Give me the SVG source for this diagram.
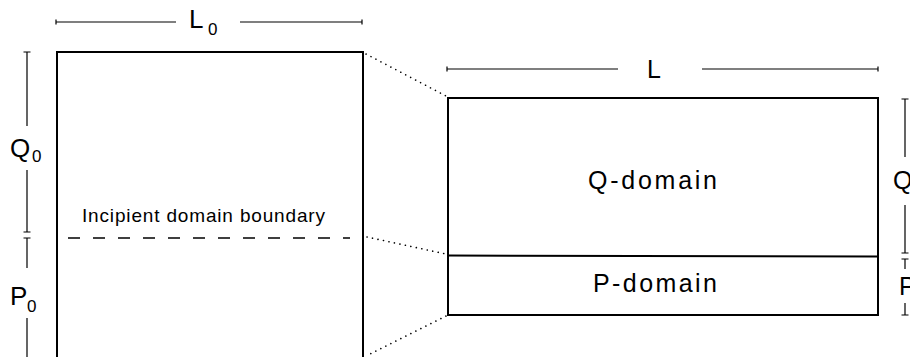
<svg xmlns="http://www.w3.org/2000/svg" width="910" height="357" viewBox="0 0 910 357">
<style>
  .box { fill: none; stroke: #000; stroke-width: 2; }
  .dim { fill: none; stroke: #000; stroke-width: 1.2; }
  .dot { fill: none; stroke: #000; stroke-width: 1.6; stroke-dasharray: 0.1 5.5; stroke-linecap: round; }
  .dash { fill: none; stroke: #000; stroke-width: 1.6; stroke-dasharray: 12 13; }
  text { font-family: "Liberation Sans", Arial, sans-serif; fill: #000; }
  .big { font-size: 26px; }
  .sub { font-size: 17px; }
  .lbl { font-size: 25px; }
  .small { font-size: 19px; }
</style>
<rect width="910" height="357" fill="#fff"/>

<g id="original-domain">
  <path class="box" d="M57,360 V52 H363 V360"/>
  <line class="dash" x1="68" y1="238" x2="350" y2="238"/>
  <text class="small" x="82" y="222" textLength="243" lengthAdjust="spacing">Incipient domain boundary</text>
</g>

<g id="dim-L0">
  <path class="dim" d="M56,22 H176 M240,22 H362 M56,19.5 V24.5 M362,19.5 V24.5"/>
  <text class="big" x="189" y="28">L</text>
  <text class="sub" x="208" y="35">0</text>
</g>

<g id="dim-Q0">
  <path class="dim" d="M27,52 V126 M27,170 V232 M23.5,52 H30.5 M23.5,232 H30.5"/>
  <text class="big" x="10" y="157">Q</text>
  <text class="sub" x="32" y="162">0</text>
</g>

<g id="dim-P0">
  <path class="dim" d="M27,238 V268 M27,318 V357 M23.5,238 H30.5"/>
  <text class="big" x="10" y="305">P</text>
  <text class="sub" x="27" y="312">0</text>
</g>

<g id="deformed-domain">
  <rect class="box" x="448" y="98" width="430" height="217"/>
  <line class="box" x1="448" y1="255.5" x2="878" y2="256.5"/>
  <text class="lbl" x="588" y="189" textLength="129" lengthAdjust="spacing">Q-domain</text>
  <text class="lbl" x="593" y="292" textLength="124" lengthAdjust="spacing">P-domain</text>
</g>

<g id="dim-L">
  <path class="dim" d="M447,69 H618 M702,69 H878 M447,66.5 V71.5 M878,66.5 V71.5"/>
  <text class="lbl" x="647" y="78">L</text>
</g>

<g id="dim-Q">
  <path class="dim" d="M905,99 V157 M905,205 V253 M901.5,99 H908.5 M901.5,253 H908.5"/>
  <text class="lbl" x="893" y="189">Q</text>
</g>

<g id="dim-P">
  <path class="dim" d="M905,259 V269 M905,303 V315 M901.5,259 H908.5 M901.5,315 H908.5"/>
  <text class="lbl" x="899" y="295">P</text>
</g>

<g id="connectors">
  <line class="dot" x1="366" y1="54" x2="446" y2="96"/>
  <line class="dot" x1="367" y1="237" x2="446" y2="254"/>
  <line class="dot" x1="446" y1="316" x2="366" y2="356"/>
</g>
</svg>
